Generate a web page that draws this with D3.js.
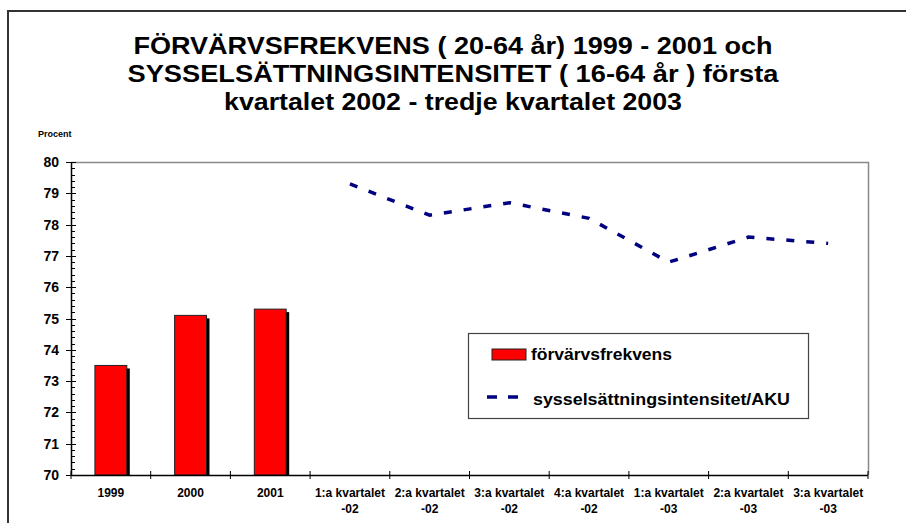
<!DOCTYPE html>
<html>
<head>
<meta charset="utf-8">
<script src="https://cdn.jsdelivr.net/npm/d3@7"></script>
<style>
  body { margin: 0; background: #fff; }
  svg { font-family: "Liberation Sans", Arial, sans-serif; }
</style>
</head>
<body>
<svg width="906" height="523"></svg>
<script>
var categories = ["1999", "2000", "2001",
                  "1:a kvartalet|-02", "2:a kvartalet|-02", "3:a kvartalet|-02", "4:a kvartalet|-02",
                  "1:a kvartalet|-03", "2:a kvartalet|-03", "3:a kvartalet|-03"];
var barCats   = ["1999", "2000", "2001"];
var barValues = [73.5, 75.1, 75.3];
var lineCats  = categories.slice(3);
var lineValues = [79.3, 78.3, 78.7, 78.2, 76.8, 77.6, 77.4];
var yTicks = [70, 71, 72, 73, 74, 75, 76, 77, 78, 79, 80];
var titleLines = ["FÖRVÄRVSFREKVENS ( 20-64 år) 1999 - 2001 och",
                  "SYSSELSÄTTNINGSINTENSITET ( 16-64 år ) första",
                  "kvartalet 2002 - tredje kvartalet 2003"];

var svg = d3.select("svg");

// outer frame
svg.append("path")
  .attr("d", "M8,530 L8,11 L920,11")
  .attr("fill", "none")
  .attr("stroke", "#333")
  .attr("stroke-width", 2);

// title
var titleW = [639, 651, 458];
svg.selectAll(".title")
  .data(titleLines)
  .enter().append("text")
    .attr("class", "title")
    .attr("x", 453)
    .attr("y", (d, i) => 54 + i * 28)
    .attr("text-anchor", "middle")
    .attr("font-size", 23.5)
    .attr("font-weight", "bold")
    .attr("textLength", (d, i) => titleW[i])
    .attr("lengthAdjust", "spacingAndGlyphs")
    .text(d => d);

var pL = 71, pR = 868, pT = 162, pB = 475;

var x = d3.scaleBand()
          .domain(categories)
          .range([pL, pR]);

var y = d3.scaleLinear()
          .domain([70, 80])
          .range([pB, pT]);

// plot border (top + right)
svg.append("path")
  .attr("d", "M" + pL + "," + (pT + 0.5) + "H" + (pR + 0.5) + "V" + pB)
  .attr("fill", "none")
  .attr("stroke", "#888")
  .attr("stroke-width", 1.5);

svg.append("text")
  .attr("x", 38).attr("y", 137)
  .attr("font-size", 9).attr("font-weight", "bold")
  .text("Procent");

// bars
var bw = x.bandwidth() * 0.4;
var bars = svg.append("g");
bars.selectAll(".shadow")
  .data(barValues)
  .enter().append("rect")
    .attr("x", (d, i) => x(barCats[i]) + (x.bandwidth() - bw) / 2 + 3)
    .attr("y", d => y(d) + 3)
    .attr("width", bw)
    .attr("height", d => pB - y(d) - 3)
    .attr("fill", "#000");
bars.selectAll(".bar")
  .data(barValues)
  .enter().append("rect")
    .attr("x", (d, i) => x(barCats[i]) + (x.bandwidth() - bw) / 2)
    .attr("y", d => y(d))
    .attr("width", bw)
    .attr("height", d => pB - y(d))
    .attr("fill", "#ff0000")
    .attr("stroke", "#222")
    .attr("stroke-width", 1);

// line
var line = d3.line()
  .x((d, i) => x(lineCats[i]) + x.bandwidth() / 2)
  .y(d => y(d));
svg.append("path")
  .datum(lineValues)
  .attr("d", line)
  .attr("fill", "none")
  .attr("stroke", "#000080")
  .attr("stroke-width", 3.5)
  .attr("stroke-dasharray", "8,12");

// y axis
var yAxis = svg.append("g")
  .attr("transform", "translate(" + pL + ",0)");
var minor = d3.range(70, 80.001, 0.2);
yAxis.selectAll(".minor")
  .data(minor)
  .enter().append("line")
    .attr("x1", 0).attr("x2", 4)
    .attr("y1", d => Math.round(y(d)) + 0.5)
    .attr("y2", d => Math.round(y(d)) + 0.5)
    .attr("stroke", "#000");
yAxis.selectAll(".major")
  .data(yTicks)
  .enter().append("line")
    .attr("x1", -5).attr("x2", 5)
    .attr("y1", d => Math.round(y(d)) + 0.5)
    .attr("y2", d => Math.round(y(d)) + 0.5)
    .attr("stroke", "#000");
yAxis.append("line")
  .attr("x1", 0.5).attr("x2", 0.5)
  .attr("y1", pT).attr("y2", pB)
  .attr("stroke", "#000").attr("stroke-width", 1.5);
yAxis.selectAll(".ylab")
  .data(yTicks)
  .enter().append("text")
    .attr("x", -12)
    .attr("y", d => y(d) + 5)
    .attr("text-anchor", "end")
    .attr("font-size", 14)
    .attr("font-weight", "bold")
    .text(d => d);

// x axis
var xAxis = svg.append("g");
xAxis.append("line")
  .attr("x1", pL).attr("x2", pR)
  .attr("y1", pB + 0.5).attr("y2", pB + 0.5)
  .attr("stroke", "#000").attr("stroke-width", 1.5);
xAxis.selectAll(".xtick")
  .data(categories.concat(["end"]))
  .enter().append("line")
    .attr("x1", (d, i) => i < categories.length ? x(d) : pR)
    .attr("x2", (d, i) => i < categories.length ? x(d) : pR)
    .attr("y1", pB - 4).attr("y2", pB + 4)
    .attr("stroke", "#000");
var xl = xAxis.selectAll(".xlab")
  .data(categories)
  .enter().append("text")
    .attr("x", d => x(d) + x.bandwidth() / 2)
    .attr("y", 497)
    .attr("text-anchor", "middle")
    .attr("font-size", 12)
    .attr("font-weight", "bold");
xl.each(function(d) {
  var parts = d.split("|");
  var t = d3.select(this);
  parts.forEach((p, j) => {
    t.append("tspan")
      .attr("x", x(d) + x.bandwidth() / 2)
      .attr("dy", j === 0 ? 0 : 16)
      .text(p);
  });
});

// legend
var lg = svg.append("g");
lg.append("rect")
  .attr("x", 468.5).attr("y", 333.5)
  .attr("width", 340).attr("height", 85)
  .attr("fill", "#fff")
  .attr("stroke", "#444")
  .attr("stroke-width", 1.2);
lg.append("rect")
  .attr("x", 492).attr("y", 349)
  .attr("width", 34).attr("height", 11)
  .attr("fill", "#ff0000")
  .attr("stroke", "#222");
lg.append("text")
  .attr("x", 531).attr("y", 360)
  .attr("font-size", 16).attr("font-weight", "bold")
  .attr("textLength", 141)
  .attr("lengthAdjust", "spacingAndGlyphs")
  .text("förvärvsfrekvens");
lg.append("line")
  .attr("x1", 487).attr("x2", 519)
  .attr("y1", 397).attr("y2", 397)
  .attr("stroke", "#000080")
  .attr("stroke-width", 3.5)
  .attr("stroke-dasharray", "10,11");
lg.append("text")
  .attr("x", 533).attr("y", 405)
  .attr("font-size", 16).attr("font-weight", "bold")
  .attr("textLength", 257)
  .attr("lengthAdjust", "spacingAndGlyphs")
  .text("sysselsättningsintensitet/AKU");
</script>
</body>
</html>
